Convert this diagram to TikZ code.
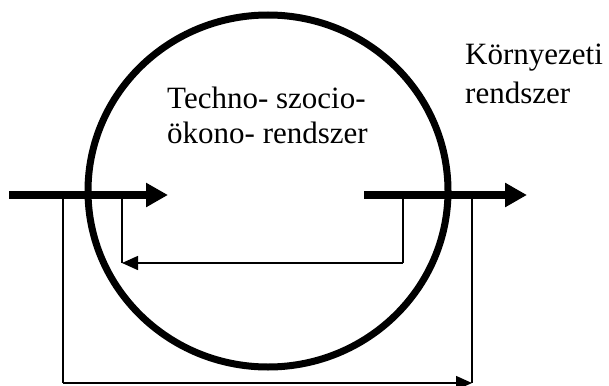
\documentclass[tikz,border=0pt]{standalone}
\usepackage{fontspec}
\setmainfont{Liberation Serif}
\usetikzlibrary{arrows.meta, positioning}

\begin{document}
\begin{tikzpicture}[
    x=1pt, y=-1pt,
    flow/.style=
        {line width=8pt,-{Triangle[length=22pt,width=23pt]}},
    loop/.style=
        {line width=1.5pt},
    looptip/.style=
        {loop,-{Triangle[length=16pt,width=14pt]}},
    label/.style=
        {inner sep=0pt,align=left,anchor=north west,
         font=\fontsize{31}{35}\selectfont}]
    \useasboundingbox (0,0) rectangle (609,385);
    % feedback paths
    \coordinate (inL) at (63,195);
    \coordinate (inR) at (122,195);
    \coordinate (outL) at (403,195);
    \coordinate (outR) at (472,195);
    \coordinate (botL) at (63,383);
    \coordinate (botR) at (472,383);
    \coordinate (midL) at (122,263);
    \coordinate (midR) at (403,263);
    \draw [loop] (outL) -- (midR);
    \draw [looptip] (midR) -- (midL);
    \draw [loop] (midL) -- (inR);
    \draw [loop] (inL) -- (botL);
    \draw [looptip] (botL) -- (botR);
    \draw [loop] (botR) -- (outR);
    % system boundary
    \draw [line width=7pt] (268,191) ellipse [x radius=180, y radius=176];
    % input and output
    \coordinate (src) at (9,195);
    \coordinate (dst) at (527,195);
    \coordinate (fin) at (168,195);
    \coordinate (fout) at (364,195);
    \draw [flow] (src) -- (fin);
    \draw [flow] (fout) -- (dst);
    \node [label] (tsr) at (167,87) {Techno- szocio-\\ökono- rendszer};
    \node [label, font=\fontsize{31}{39}\selectfont]
        (kr) at (465,44) {Környezeti\\rendszer};
\end{tikzpicture}
\end{document}
